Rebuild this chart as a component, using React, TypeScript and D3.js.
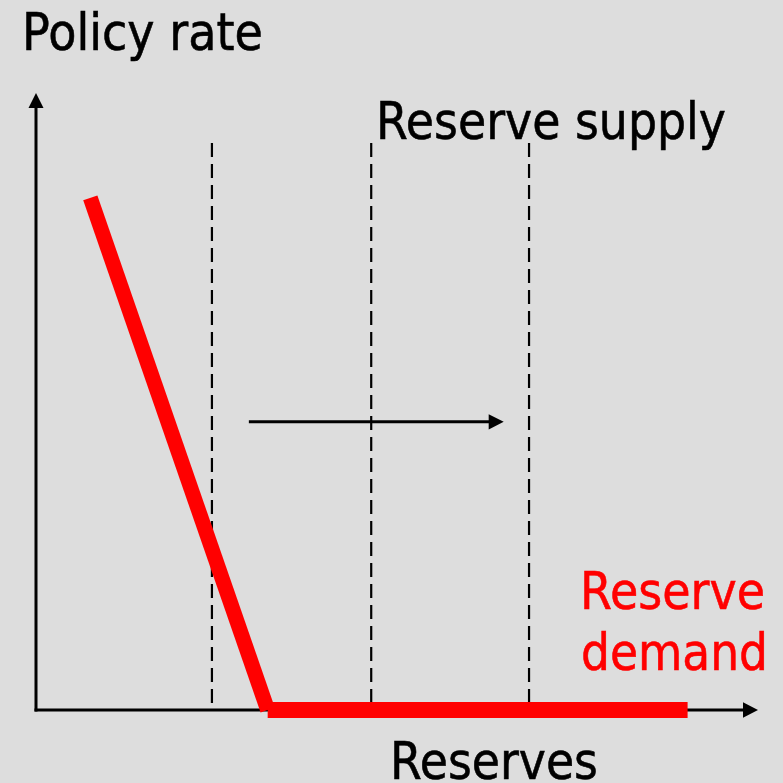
import React from "react";
import * as d3 from "d3";

const W = 783;
const H = 783;

// Data (in abstract chart units 0..100)
const demandPoints: [number, number][] = [
  [7.5, 83],
  [32.0, 0],
  [90, 0],
];
const supplyPositions = [24.3, 46.3, 68.1];
const supplyTop = 91.9;
const shiftArrow: [number, number] = [29.4, 64.6];
const shiftArrowY = 46.7;

const labels = {
  yTitle: "Policy rate",
  xTitle: "Reserves",
  supply: "Reserve supply",
  demand: ["Reserve", "demand"],
};

export default function App() {
  const x = d3.scaleLinear().domain([0, 100]).range([36, 760]);
  const y = d3.scaleLinear().domain([0, 100]).range([710, 93]);
  const font = "Tahoma, 'DejaVu Sans', sans-serif";

  const ax0 = x(0);
  const ay0 = y(0);
  const yTop = y(100);
  const xEnd = x(100) - 2;
  const ax = x(shiftArrow[1]);
  const ay = y(shiftArrowY);

  const textProps = {
    fontFamily: font,
    fontSize: 51,
    lengthAdjust: "spacingAndGlyphs" as const,
    strokeWidth: 0.6,
  };

  return (
    <svg
      width={W}
      height={H}
      style={{ position: "fixed", left: 0, top: 0, display: "block" }}
    >
      <rect x={0} y={0} width={W} height={H} fill="#dddddd" />

      {/* dashed supply lines */}
      {supplyPositions.map((s, i) => (
        <line
          key={i}
          x1={x(s)}
          x2={x(s)}
          y1={y(supplyTop)}
          y2={ay0}
          stroke="#000"
          strokeWidth={2.2}
          strokeDasharray="14,7"
        />
      ))}

      {/* axes */}
      <line x1={ax0} y1={ay0 + 1.5} x2={ax0} y2={yTop + 12} stroke="#000" strokeWidth={3} />
      <path
        d={`M${ax0},${yTop} L${ax0 - 7.5},${yTop + 15} L${ax0 + 7.5},${yTop + 15} Z`}
        fill="#000"
      />
      <line x1={ax0 - 1.5} y1={ay0} x2={xEnd - 12} y2={ay0} stroke="#000" strokeWidth={3} />
      <path
        d={`M${xEnd},${ay0} L${xEnd - 15},${ay0 - 7.7} L${xEnd - 15},${ay0 + 7.7} Z`}
        fill="#000"
      />

      {/* shift arrow */}
      <line
        x1={x(shiftArrow[0])}
        x2={ax - 12}
        y1={ay}
        y2={ay}
        stroke="#000"
        strokeWidth={3}
      />
      <path
        d={`M${ax},${ay} L${ax - 15},${ay - 7.7} L${ax - 15},${ay + 7.7} Z`}
        fill="#000"
      />

      {/* demand curve (two segments) */}
      {demandPoints.slice(1).map((p, i) => {
        const a = demandPoints[i];
        return (
          <line
            key={i}
            x1={x(a[0])}
            y1={y(a[1])}
            x2={x(p[0])}
            y2={y(p[1])}
            stroke="#ff0000"
            strokeWidth={i === 0 ? 15 : 16}
            strokeLinecap="butt"
          />
        );
      })}

      {/* texts */}
      <text x={22} y={50} {...textProps} fill="#000" stroke="#000" textLength={241}>
        {labels.yTitle}
      </text>
      <text x={376} y={139} {...textProps} fill="#000" stroke="#000" textLength={350}>
        {labels.supply}
      </text>
      <text x={580} y={609} {...textProps} fill="#ff0000" stroke="#ff0000" textLength={185}>
        {labels.demand[0]}
      </text>
      <text x={581} y={670} {...textProps} fill="#ff0000" stroke="#ff0000" textLength={187}>
        {labels.demand[1]}
      </text>
      <text x={390} y={779} {...textProps} fill="#000" stroke="#000" textLength={208}>
        {labels.xTitle}
      </text>
    </svg>
  );
}
